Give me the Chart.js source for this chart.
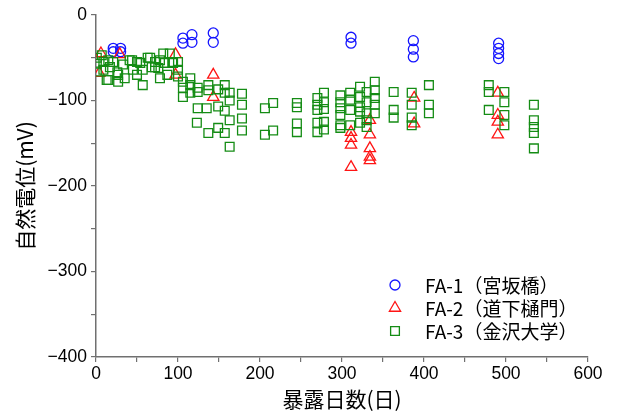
<!DOCTYPE html>
<html>
<head>
<meta charset="utf-8">
<script src="https://cdn.jsdelivr.net/npm/chart.js@4/dist/chart.umd.min.js"></script>
<style>
  html, body { margin: 0; padding: 0; background: #fff; }
</style>
</head>
<body>
<canvas id="potentialChart" width="621" height="412"></canvas>
<script>
// 暴露日数(日), 自然電位(mV)
const fa1 = [
  [21, -39], [21, -43], [30, -39], [30, -43],
  [106, -27], [106, -33], [117, -23], [117, -32],
  [143, -21], [143, -32],
  [311, -26], [311, -33],
  [387, -30], [387, -40], [387, -49],
  [491, -33], [491, -39], [491, -45], [491, -51]
];

const fa2 = [
  [6, -45], [4, -68], [29, -46],
  [97, -46], [97, -70],
  [143, -70], [143, -96],
  [311, -137], [311, -144], [311, -152], [311, -178],
  [334, -123], [334, -140], [334, -156], [334, -166], [334, -170],
  [388, -97], [388, -127],
  [490, -91], [490, -117], [490, -125], [490, -140]
];

const fa3 = [
  [1, -50], [1, -57], [1, -66],
  [7, -47], [9, -55], [9, -64], [13, -76], [15, -53], [15, -76], [17, -61],
  [21, -55], [26, -67], [27, -70], [27, -78], [33, -58], [35, -74],
  [41, -53], [44, -53], [45, -64], [50, -55], [50, -70], [54, -56],
  [57, -64], [57, -82], [63, -50], [66, -50], [68, -61], [72, -55],
  [72, -61], [76, -62], [78, -53], [78, -74], [82, -45], [84, -56],
  [87, -70], [90, -45], [93, -55], [94, -56], [100, -55], [100, -64], [100, -72],
  [106, -78], [106, -85], [106, -96], [115, -74], [115, -82], [115, -91],
  [124, -85], [124, -90], [124, -109], [123, -126],
  [137, -82], [137, -88], [135, -109], [137, -138],
  [149, -87], [149, -107], [149, -132],
  [157, -82], [157, -91], [157, -112], [157, -138],
  [163, -91], [163, -100], [163, -123], [163, -154],
  [178, -92], [178, -105], [178, -121], [178, -135],
  [206, -109], [216, -103], [206, -140], [216, -135],
  [245, -103], [245, -108], [245, -127], [245, -137],
  [270, -97], [270, -105], [270, -111], [270, -126], [270, -137],
  [278, -91], [278, -102], [278, -110], [278, -125], [278, -134],
  [298, -94], [298, -102], [298, -109], [298, -117], [298, -129], [298, -132],
  [310, -91], [310, -99], [310, -111], [310, -129],
  [322, -84], [322, -96], [322, -108], [322, -113], [322, -126],
  [330, -90], [330, -102], [330, -115], [330, -123], [330, -131],
  [340, -78], [340, -88], [340, -97], [340, -105], [340, -115],
  [363, -90], [363, -111], [363, -120],
  [385, -91], [385, -105], [385, -120], [385, -129],
  [406, -82], [406, -105], [406, -115],
  [479, -82], [479, -90], [479, -111],
  [498, -90], [498, -102], [498, -117], [498, -129],
  [534, -105], [534, -123], [534, -131], [534, -138], [534, -156]
];

const seriesLabels = ['FA-1（宮坂橋）', 'FA-2（道下樋門）', 'FA-3（金沢大学）'];
const xTicks = [0, 100, 200, 300, 400, 500, 600];
const yTicks = [0, -100, -200, -300, -400];

const toPoints = rows => rows.map(r => ({ x: r[0], y: r[1] }));

const labelFont = { family: '"Liberation Sans", Arial, sans-serif', size: 17.5 };
const jpFont = '"Noto Sans CJK JP", sans-serif';

// legend drawn inside the plot area, lower right
const innerLegend = {
  id: 'innerLegend',
  afterDraw(chart, args, opts) {
    const ctx = chart.ctx;
    const area = chart.chartArea;
    ctx.save();
    ctx.font = opts.font;
    ctx.textBaseline = 'middle';
    chart.data.datasets.forEach((ds, i) => {
      const x = area.left + opts.left;
      const y = area.top + opts.top + i * opts.rowGap;
      ctx.strokeStyle = ds.borderColor;
      ctx.fillStyle = 'rgba(0,0,0,0)';
      ctx.lineWidth = ds.borderWidth;
      Chart.helpers.drawPoint(ctx, {
        pointStyle: ds.pointStyle,
        radius: ds.pointRadius,
        borderWidth: ds.borderWidth,
        rotation: 0
      }, x, y);
      ctx.fillStyle = '#000';
      ctx.fillText(ds.label, x + opts.textGap, y + 1);
    });
    ctx.restore();
  }
};

const axisColor = '#707070';

new Chart(document.getElementById('potentialChart'), {
  type: 'scatter',
  data: {
    datasets: [{
      label: seriesLabels[0],
      data: toPoints(fa1),
      pointStyle: 'circle',
      pointRadius: 5,
      borderColor: 'rgb(20, 20, 255)',
      backgroundColor: 'rgba(0,0,0,0)',
      borderWidth: 1.3,
      order: 2
    }, {
      label: seriesLabels[1],
      data: toPoints(fa2),
      pointStyle: 'triangle',
      pointRadius: 6.5,
      borderColor: 'rgb(255, 20, 20)',
      backgroundColor: 'rgba(0,0,0,0)',
      borderWidth: 1.3,
      order: 1
    }, {
      label: seriesLabels[2],
      data: toPoints(fa3),
      pointStyle: 'rect',
      pointRadius: 6.2,
      borderColor: 'rgb(20, 140, 20)',
      backgroundColor: 'rgba(0,0,0,0)',
      borderWidth: 1.3,
      order: 0
    }]
  },
  options: {
    responsive: false,
    animation: false,
    layout: {
      padding: { top: 15, right: 33, left: 0, bottom: 0 }
    },
    plugins: {
      legend: { display: false },
      tooltip: { enabled: false },
      innerLegend: {
        font: '19px ' + jpFont,
        left: 299,
        top: 270,
        rowGap: 23,
        textGap: 30
      }
    },
    scales: {
      x: {
        type: 'linear',
        min: 0,
        max: 600,
        afterFit(scale) { scale.height = 55; },
        afterBuildTicks(scale) {
          scale.ticks = [];
          for (let v = 0; v <= 600; v += 50) scale.ticks.push({ value: v });
        },
        border: { display: true, color: axisColor, width: 1.5 },
        grid: { drawOnChartArea: false, drawTicks: true, tickLength: 5, color: axisColor, lineWidth: 1.2 },
        ticks: {
          color: '#000',
          font: labelFont,
          padding: 2,
          maxRotation: 0,
          autoSkip: false,
          callback: v => xTicks.includes(v) ? String(v) : ''
        },
        title: {
          display: true,
          text: '暴露日数(日)',
          color: '#000',
          font: { family: jpFont, size: 21 },
          padding: { top: -4, bottom: 0 }
        }
      },
      y: {
        type: 'linear',
        min: -400,
        max: 0,
        afterFit(scale) { scale.width = 96; },
        afterBuildTicks(scale) {
          scale.ticks = [];
          for (let v = -400; v <= 0; v += 50) scale.ticks.push({ value: v });
        },
        border: { display: true, color: axisColor, width: 1.5 },
        grid: { drawOnChartArea: false, drawTicks: true, tickLength: 5, color: axisColor, lineWidth: 1.2 },
        ticks: {
          color: '#000',
          font: labelFont,
          padding: 4,
          autoSkip: false,
          callback: v => yTicks.includes(v) ? (v < 0 ? '\u2212' + Math.abs(v) : String(v)) : ''
        },
        title: {
          display: true,
          text: '自然電位(mV)',
          color: '#000',
          font: { family: jpFont, size: 21 },
          padding: { top: 12, bottom: 0 }
        }
      }
    }
  },
  plugins: [innerLegend]
});
</script>
</body>
</html>
